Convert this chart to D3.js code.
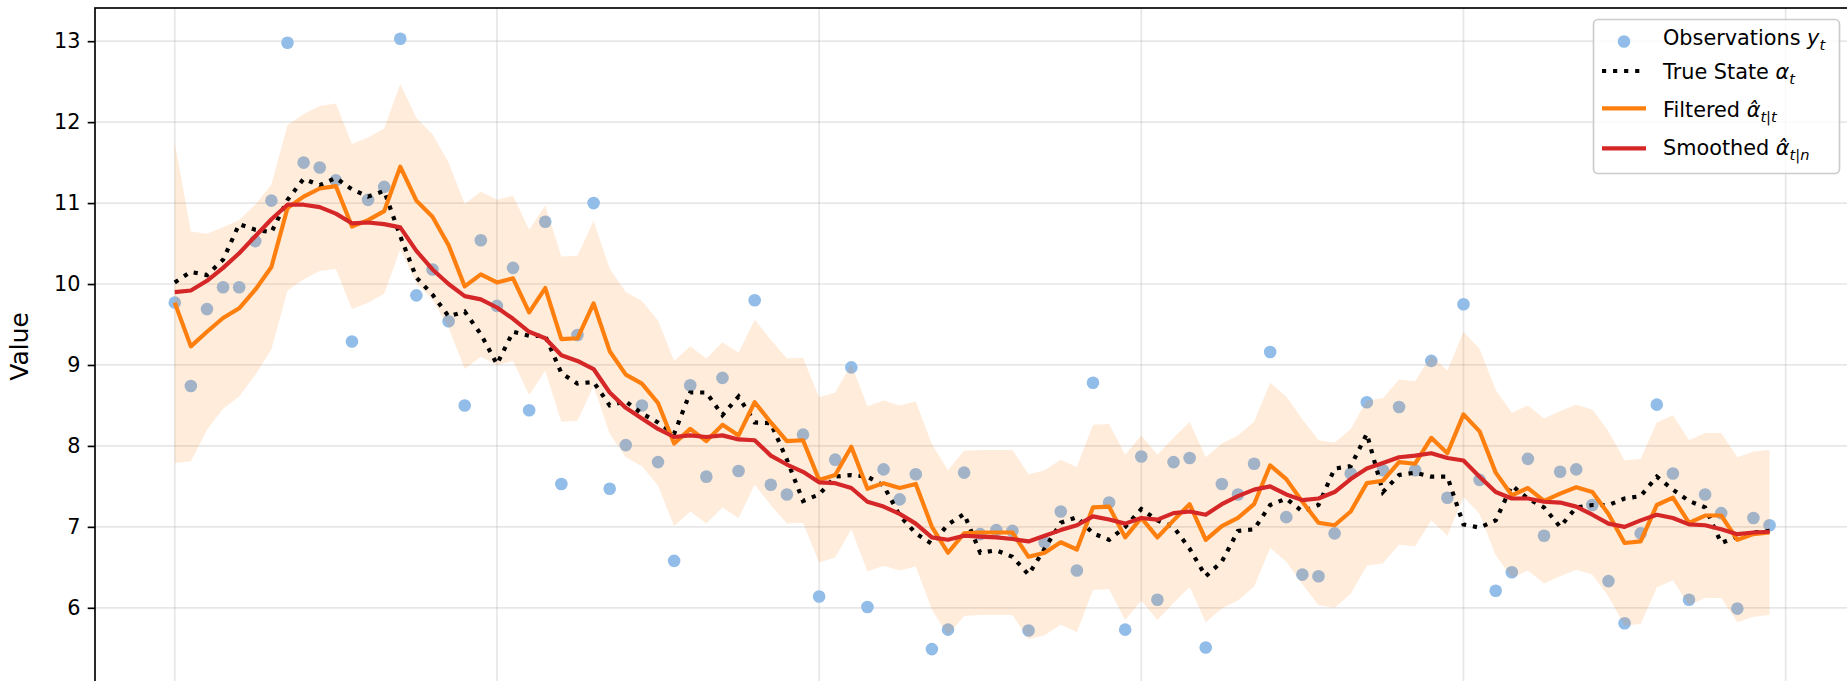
<!DOCTYPE html>
<html>
<head>
<meta charset="utf-8">
<script src="https://cdn.jsdelivr.net/npm/d3@7"></script>
<style>
  html, body { margin: 0; padding: 0; background: #fff; }
  svg { display: block; font-family: "DejaVu Sans", sans-serif; }
</style>
</head>
<body>
<svg id="chart" width="1847" height="681"></svg>
<script>
// ---------- data ----------
const timeSteps = d3.range(0, 100);
const observations = [9.77, 8.74, 9.69, 9.96, 9.96, 10.53, 11.03, 12.98, 11.50, 11.44,
  11.28, 9.29, 11.04, 11.20, 13.03, 9.86, 10.18, 9.54, 8.50, 10.54,
  9.73, 10.20, 8.44, 10.77, 7.53, 9.37, 11.00, 7.47, 8.01, 8.50,
  7.80, 6.58, 8.75, 7.62, 8.84, 7.69, 9.80, 7.52, 7.40, 8.14,
  6.14, 7.83, 8.97, 6.01, 7.71, 7.34, 7.65, 5.49, 5.73, 7.67,
  6.91, 6.96, 6.95, 5.72, 6.81, 7.19, 6.46, 8.78, 7.30, 5.73,
  7.87, 6.10, 7.80, 7.85, 5.51, 7.53, 7.40, 7.78, 9.16, 7.12,
  6.41, 6.39, 6.92, 7.66, 8.54, 7.70, 8.48, 7.70, 9.05, 7.36,
  9.75, 7.58, 6.21, 6.44, 7.84, 6.89, 7.68, 7.71, 7.27, 6.33,
  5.81, 6.92, 8.51, 7.66, 6.10, 7.40, 7.17, 5.99, 7.11, 7.02];
const trueState = [10.02, 10.15, 10.11, 10.30, 10.74, 10.67, 10.64, 11.04, 11.30, 11.22,
  11.31, 11.17, 11.08, 11.15, 10.59, 10.08, 9.87, 9.60, 9.66, 9.38,
  9.01, 9.41, 9.36, 9.36, 8.90, 8.77, 8.79, 8.50, 8.55, 8.40,
  8.29, 8.15, 8.66, 8.66, 8.38, 8.61, 8.29, 8.28, 7.83, 7.32,
  7.40, 7.62, 7.64, 7.62, 7.51, 7.14, 6.92, 6.79, 7.03, 7.16,
  6.68, 6.71, 6.63, 6.41, 6.73, 7.05, 7.12, 6.92, 6.84, 7.00,
  7.22, 7.08, 7.00, 6.73, 6.39, 6.57, 6.95, 6.97, 7.27, 7.35,
  7.19, 7.27, 7.72, 7.75, 8.15, 7.43, 7.64, 7.67, 7.62, 7.62,
  7.03, 6.99, 7.08, 7.51, 7.35, 7.24, 7.00, 7.24, 7.27, 7.27,
  7.35, 7.38, 7.62, 7.46, 7.32, 7.24, 6.80, 6.88, 6.93, 6.95];
const filtered = [9.77, 9.23, 9.41, 9.58, 9.70, 9.93, 10.21, 10.94, 11.08, 11.18,
  11.21, 10.71, 10.79, 10.90, 11.45, 11.03, 10.83, 10.48, 9.97, 10.12,
  10.02, 10.07, 9.65, 9.95, 9.32, 9.33, 9.76, 9.17, 8.88, 8.77,
  8.53, 8.03, 8.21, 8.06, 8.26, 8.13, 8.54, 8.29, 8.06, 8.07,
  7.58, 7.64, 7.99, 7.47, 7.54, 7.48, 7.53, 7.00, 6.68, 6.92,
  6.93, 6.93, 6.93, 6.63, 6.68, 6.81, 6.72, 7.24, 7.25, 6.87,
  7.11, 6.87, 7.08, 7.28, 6.84, 7.01, 7.11, 7.28, 7.76, 7.59,
  7.31, 7.05, 7.02, 7.19, 7.54, 7.57, 7.80, 7.78, 8.10, 7.91,
  8.39, 8.18, 7.67, 7.39, 7.48, 7.32, 7.41, 7.49, 7.43, 7.16,
  6.80, 6.82, 7.27, 7.36, 7.05, 7.14, 7.14, 6.84, 6.91, 6.93];
const smoothed = [9.90, 9.92, 10.04, 10.20, 10.38, 10.59, 10.80, 10.98, 10.98, 10.95,
  10.87, 10.75, 10.76, 10.74, 10.70, 10.41, 10.18, 10.00, 9.85, 9.81,
  9.71, 9.57, 9.41, 9.33, 9.12, 9.05, 8.95, 8.66, 8.47, 8.34,
  8.21, 8.11, 8.13, 8.11, 8.13, 8.08, 8.07, 7.88, 7.77, 7.68,
  7.55, 7.54, 7.48, 7.31, 7.25, 7.16, 7.04, 6.87, 6.84, 6.89,
  6.88, 6.87, 6.85, 6.82, 6.89, 6.96, 7.02, 7.13, 7.09, 7.04,
  7.11, 7.09, 7.17, 7.19, 7.15, 7.28, 7.38, 7.46, 7.50, 7.40,
  7.33, 7.35, 7.43, 7.59, 7.72, 7.79, 7.86, 7.88, 7.91, 7.85,
  7.82, 7.62, 7.43, 7.35, 7.35, 7.31, 7.30, 7.25, 7.15, 7.04,
  7.00, 7.08, 7.15, 7.11, 7.03, 7.02, 6.97, 6.91, 6.93, 6.94];
// half-width of the filtered confidence band
const bandHalfWidth = [1.98, 1.42, 1.21, 1.12, 1.09, 1.05, 1.02, 1.02, 1.02, 1.02,
  1.02, 1.02, 1.02, 1.02, 1.02, 1.02, 1.02, 1.02, 1.02, 1.02,
  1.02, 1.02, 1.02, 1.02, 1.02, 1.02, 1.02, 1.02, 1.02, 1.02,
  1.02, 1.02, 1.02, 1.02, 1.02, 1.02, 1.02, 1.02, 1.02, 1.02,
  1.02, 1.02, 1.02, 1.02, 1.02, 1.02, 1.02, 1.02, 1.02, 1.02,
  1.02, 1.02, 1.02, 1.02, 1.02, 1.02, 1.02, 1.02, 1.02, 1.02,
  1.02, 1.02, 1.02, 1.02, 1.02, 1.02, 1.02, 1.02, 1.02, 1.02,
  1.02, 1.02, 1.02, 1.02, 1.02, 1.02, 1.02, 1.02, 1.02, 1.02,
  1.02, 1.02, 1.02, 1.02, 1.02, 1.02, 1.02, 1.02, 1.02, 1.02,
  1.02, 1.02, 1.02, 1.02, 1.02, 1.02, 1.02, 1.02, 1.02, 1.02];
const yTicks = [6, 7, 8, 9, 10, 11, 12, 13];
const xTicks = [0, 20, 40, 60, 80, 100];
const yLabel = "Value";

// ---------- layout ----------
const svg = d3.select("#chart");
const pLeft = 95, pRight = 1849.3, pTop = 8.0, pBottom = 684.7;
const x = d3.scaleLinear().domain([-4.95, 103.95]).range([pLeft, pRight]);
const y = d3.scaleLinear().domain([5.05, 13.41]).range([pBottom, pTop]);

const rows = timeSteps.map((t, i) => ({
  t, obs: observations[i], tru: trueState[i], filt: filtered[i],
  smo: smoothed[i], hw: bandHalfWidth[i]
}));

svg.append("defs").append("clipPath").attr("id", "plotclip")
  .append("rect").attr("x", pLeft).attr("y", pTop)
  .attr("width", pRight - pLeft).attr("height", pBottom - pTop);

// grid
const grid = svg.append("g").attr("clip-path", "url(#plotclip)");
grid.selectAll("line.gy").data(yTicks).join("line")
  .attr("x1", pLeft).attr("x2", pRight)
  .attr("y1", d => y(d)).attr("y2", d => y(d))
  .attr("stroke", "#b0b0b0").attr("stroke-opacity", 0.3).attr("stroke-width", 1.7);
grid.selectAll("line.gx").data(xTicks).join("line")
  .attr("y1", pTop).attr("y2", pBottom)
  .attr("x1", d => x(d)).attr("x2", d => x(d))
  .attr("stroke", "#b0b0b0").attr("stroke-opacity", 0.3).attr("stroke-width", 1.7);

const plot = svg.append("g").attr("clip-path", "url(#plotclip)");

// observations (under band)
plot.selectAll("circle.obs").data(rows).join("circle")
  .attr("cx", d => x(d.t)).attr("cy", d => y(d.obs)).attr("r", 6.3)
  .attr("fill", "#92bde8");

// band
const area = d3.area().x(d => x(d.t))
  .y0(d => y(d.filt - d.hw)).y1(d => y(d.filt + d.hw));
plot.append("path").datum(rows).attr("d", area)
  .attr("fill", "#ff7f0e").attr("fill-opacity", 0.15);

const lineGen = key => d3.line().x(d => x(d.t)).y(d => y(d[key]));
plot.append("path").datum(rows).attr("d", lineGen("tru"))
  .attr("fill", "none").attr("stroke", "#000").attr("stroke-width", 4.17)
  .attr("stroke-dasharray", "4.17 6.88");
plot.append("path").datum(rows).attr("d", lineGen("filt"))
  .attr("fill", "none").attr("stroke", "#ff7f0e").attr("stroke-width", 4.17)
  .attr("stroke-linejoin", "round");
plot.append("path").datum(rows).attr("d", lineGen("smo"))
  .attr("fill", "none").attr("stroke", "#d62728").attr("stroke-width", 4.17)
  .attr("stroke-linejoin", "round");

// axes
const yAxis = d3.axisLeft(y).tickValues(yTicks).tickSize(7.3).tickPadding(7.3)
  .tickFormat(d3.format("d"));
const gy = svg.append("g").attr("transform", `translate(${pLeft},0)`).call(yAxis);
gy.select(".domain").remove();
gy.selectAll(".tick line").attr("stroke", "#000").attr("stroke-width", 1.67);
gy.selectAll(".tick text").attr("font-size", 20.8).attr("fill", "#000")
  .attr("font-family", "DejaVu Sans");

// x axis sits just below the visible frame (its labels are cropped off in the reference)
const xAxis = d3.axisBottom(x).tickValues(xTicks).tickSize(7.3).tickFormat(() => "");
const gx = svg.append("g").attr("transform", `translate(0,${pBottom})`).call(xAxis);
gx.select(".domain").remove();
gx.selectAll(".tick line").attr("stroke", "#000").attr("stroke-width", 1.67);

// spines
svg.append("rect").attr("x", pLeft).attr("y", pTop)
  .attr("width", pRight - pLeft).attr("height", pBottom - pTop)
  .attr("fill", "none").attr("stroke", "#000").attr("stroke-width", 1.67);

// y label
svg.append("text").attr("transform", `translate(28,${(pTop + pBottom) / 2}) rotate(-90)`)
  .attr("text-anchor", "middle").attr("font-size", 25).attr("fill", "#000")
  .text(yLabel);

// legend
const lg = svg.append("g");
lg.append("rect").attr("x", 1593.5).attr("y", 19.5).attr("width", 246).attr("height", 154)
  .attr("rx", 4.5).attr("fill", "#fff").attr("fill-opacity", 0.8)
  .attr("stroke", "#cccccc").attr("stroke-width", 1.67);

const hx0 = 1602, hx1 = 1646, tx = 1663;
lg.append("circle").attr("cx", (hx0 + hx1) / 2).attr("cy", 41.5).attr("r", 6.3)
  .attr("fill", "#92bde8");
lg.append("line").attr("x1", hx0).attr("x2", hx1).attr("y1", 71).attr("y2", 71)
  .attr("stroke", "#000").attr("stroke-width", 4.17).attr("stroke-dasharray", "4.17 6.88");
lg.append("line").attr("x1", hx0).attr("x2", hx1).attr("y1", 108.3).attr("y2", 108.3)
  .attr("stroke", "#ff7f0e").attr("stroke-width", 4.17);
lg.append("line").attr("x1", hx0).attr("x2", hx1).attr("y1", 148.3).attr("y2", 148.3)
  .attr("stroke", "#d62728").attr("stroke-width", 4.17);

function legendText(yb, label, sym, hat, subParts) {
  const t = lg.append("text").attr("x", tx).attr("y", yb)
    .attr("font-size", 20.8).attr("fill", "#000");
  t.append("tspan").text(label + " ");
  t.append("tspan").attr("font-style", "italic").text(sym + (hat ? "\u0302" : ""));
  subParts.forEach((p, i) => {
    const s = t.append("tspan").attr("font-size", 14.6)
      .attr("font-style", p === "|" ? "normal" : "italic").text(p);
    if (i === 0) s.attr("dy", 5);
  });
}
legendText(45, "Observations", "y", false, ["t"]);
legendText(79.3, "True State", "\u03b1", false, ["t"]);
legendText(116.7, "Filtered", "\u03b1", true, ["t", "|", "t"]);
legendText(155, "Smoothed", "\u03b1", true, ["t", "|", "n"]);
</script>
</body>
</html>
